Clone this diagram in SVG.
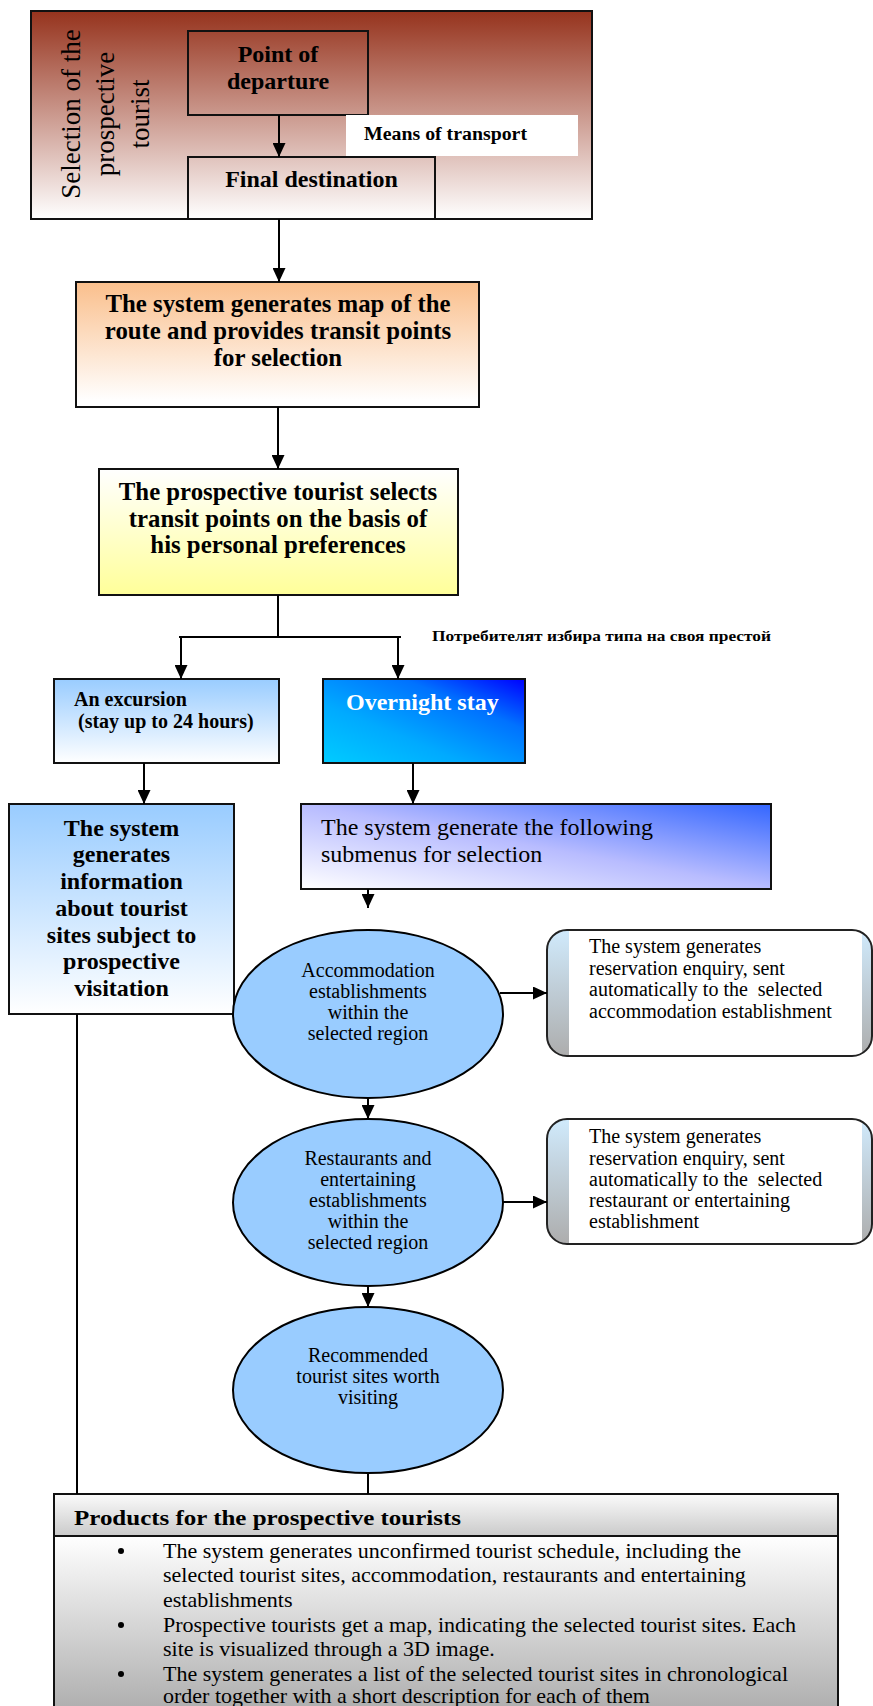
<svg xmlns="http://www.w3.org/2000/svg" width="873" height="1706" viewBox="0 0 873 1706">
<style>
.t{font-family:"Liberation Serif","Times New Roman",serif;fill:#000}
.b{font-weight:bold}
.c{text-anchor:middle}
.box{stroke:#111;stroke-width:2}
.ln{fill:none;stroke:#000;stroke-width:2}
.ell{fill:#99ccff;stroke:#000;stroke-width:2}
</style>
<defs>
<linearGradient id="gTop" x1="0" y1="0" x2="0" y2="1"><stop offset="0" stop-color="#96331d"/><stop offset="1" stop-color="#ffffff"/></linearGradient>
<linearGradient id="gOrange" x1="0" y1="0" x2="0" y2="1"><stop offset="0" stop-color="#fabf8c"/><stop offset="0.95" stop-color="#ffffff"/></linearGradient>
<linearGradient id="gYellow" x1="0" y1="0" x2="0" y2="1"><stop offset="0" stop-color="#ffffff"/><stop offset="1" stop-color="#ffff99"/></linearGradient>
<linearGradient id="gLB" x1="0" y1="0" x2="0" y2="1"><stop offset="0" stop-color="#99ccff"/><stop offset="1" stop-color="#ffffff"/></linearGradient>
<linearGradient id="gNight" x1="0" y1="1" x2="1" y2="0"><stop offset="0" stop-color="#00ccff"/><stop offset="0.35" stop-color="#00aaff"/><stop offset="0.7" stop-color="#0072ff"/><stop offset="1" stop-color="#0000ff"/></linearGradient>
<linearGradient id="gSub" x1="0" y1="1" x2="1" y2="0"><stop offset="0" stop-color="#ffffff"/><stop offset="0.5" stop-color="#b8bcff"/><stop offset="1" stop-color="#3366ff"/></linearGradient>
<linearGradient id="gBand" x1="0" y1="0" x2="0" y2="1"><stop offset="0" stop-color="#d0eafc"/><stop offset="1" stop-color="#adadad"/></linearGradient>
<linearGradient id="gHead" x1="0" y1="0" x2="0" y2="1"><stop offset="0" stop-color="#fbfbfb"/><stop offset="1" stop-color="#cacaca"/></linearGradient>
<linearGradient id="gBody" gradientUnits="userSpaceOnUse" x1="0" y1="1536" x2="0" y2="1706"><stop offset="0" stop-color="#ffffff"/><stop offset="1" stop-color="#b0b0b0"/></linearGradient>
<marker id="arr" markerUnits="userSpaceOnUse" markerWidth="14" markerHeight="13" viewBox="0 0 14 13" refX="14" refY="6.5" orient="auto"><path d="M0,0 L14,6.5 L0,13 z" fill="#000"/></marker>
</defs>

<g id="selection">
<rect x="31" y="11" width="561" height="208" fill="url(#gTop)" class="box" stroke-width="2.5"/>
<g class="t" font-size="27" text-anchor="middle">
<text transform="translate(80,114) rotate(-90)">Selection of the</text>
<text transform="translate(114,114) rotate(-90)">prospective</text>
<text transform="translate(149,114) rotate(-90)">tourist</text>
</g>
</g>

<g id="point-of-departure">
<rect x="188" y="31" width="180" height="84" fill="none" class="box"/>
<text class="t b c" font-size="24" x="278" y="62">Point of</text>
<text class="t b c" font-size="24" x="278" y="89">departure</text>
</g>

<g id="means-of-transport">
<rect x="346" y="115" width="232" height="41" fill="#ffffff"/>
<text class="t b" font-size="18" x="364" y="140" textLength="163" lengthAdjust="spacingAndGlyphs">Means of transport</text>
</g>

<g id="final-destination">
<rect x="188" y="157" width="247" height="62" fill="none" class="box"/>
<text class="t b c" font-size="24" x="311.5" y="187">Final destination</text>
</g>

<g id="route-map">
<rect x="76" y="282" width="403" height="125" fill="url(#gOrange)" class="box"/>
<text class="t b c" font-size="24.8" x="278" y="312">The system generates map of the</text>
<text class="t b c" font-size="24.8" x="278" y="339">route and provides transit points</text>
<text class="t b c" font-size="24.8" x="278" y="366">for selection</text>
</g>

<g id="select-transit">
<rect x="99" y="469" width="359" height="126" fill="url(#gYellow)" class="box"/>
<text class="t b c" font-size="24.8" x="278" y="500">The prospective tourist selects</text>
<text class="t b c" font-size="24.8" x="278" y="527">transit points on the basis of</text>
<text class="t b c" font-size="24.8" x="278" y="553">his personal preferences</text>
</g>

<g id="stay-type-label">
<text class="t b" font-size="15" x="432" y="641" textLength="339" lengthAdjust="spacingAndGlyphs">Потребителят избира типа на своя престой</text>
</g>

<g id="excursion">
<rect x="54" y="679" width="225" height="84" fill="url(#gLB)" class="box"/>
<text class="t b" font-size="20" x="74" y="706">An excursion</text>
<text class="t b" font-size="20" x="78" y="728">(stay up to 24 hours)</text>
</g>

<g id="overnight">
<rect x="323" y="679" width="202" height="84" fill="url(#gNight)" class="box"/>
<text class="t b" font-size="24" x="346" y="710" style="fill:#ffffff">Overnight stay</text>
</g>

<g id="tourist-sites-info">
<rect x="9" y="804" width="225" height="210" fill="url(#gLB)" class="box"/>
<g class="t b c" font-size="24">
<text x="121.5" y="836">The system</text>
<text x="121.5" y="862">generates</text>
<text x="121.5" y="889">information</text>
<text x="121.5" y="916">about tourist</text>
<text x="121.5" y="943">sites subject to</text>
<text x="121.5" y="969">prospective</text>
<text x="121.5" y="996">visitation</text>
</g>
</g>

<g id="submenus">
<rect x="301" y="804" width="470" height="85" fill="url(#gSub)" class="box"/>
<text class="t" font-size="24" x="321" y="835">The system generate the following</text>
<text class="t" font-size="24" x="321" y="862">submenus for selection</text>
</g>

<g id="accommodation">
<ellipse cx="368" cy="1014" rx="135" ry="84" class="ell"/>
<g class="t c" font-size="20">
<text x="368" y="977">Accommodation</text>
<text x="368" y="998">establishments</text>
<text x="368" y="1019">within the</text>
<text x="368" y="1040">selected region</text>
</g>
</g>

<g id="reservation-accommodation">
<rect x="547" y="930" width="325" height="126" rx="20" fill="url(#gBand)"/>
<rect x="569" y="931" width="293" height="124" fill="#ffffff"/>
<rect x="547" y="930" width="325" height="126" rx="20" fill="none" stroke="#222" stroke-width="2"/>
<g class="t" font-size="20">
<text x="589" y="953">The system generates</text>
<text x="589" y="975">reservation enquiry, sent</text>
<text x="589" y="996">automatically to the&#160; selected</text>
<text x="589" y="1018">accommodation establishment</text>
</g>
</g>

<g id="restaurants">
<ellipse cx="368" cy="1202.5" rx="135" ry="83.5" class="ell"/>
<g class="t c" font-size="20">
<text x="368" y="1165">Restaurants and</text>
<text x="368" y="1186">entertaining</text>
<text x="368" y="1207">establishments</text>
<text x="368" y="1228">within the</text>
<text x="368" y="1249">selected region</text>
</g>
</g>

<g id="reservation-restaurant">
<rect x="547" y="1119" width="325" height="125" rx="20" fill="url(#gBand)"/>
<rect x="569" y="1120" width="293" height="123" fill="#ffffff"/>
<rect x="547" y="1119" width="325" height="125" rx="20" fill="none" stroke="#222" stroke-width="2"/>
<g class="t" font-size="20">
<text x="589" y="1143">The system generates</text>
<text x="589" y="1165">reservation enquiry, sent</text>
<text x="589" y="1186">automatically to the&#160; selected</text>
<text x="589" y="1207">restaurant or entertaining</text>
<text x="589" y="1228">establishment</text>
</g>
</g>

<g id="recommended-sites">
<ellipse cx="368" cy="1390" rx="135" ry="83" class="ell"/>
<g class="t c" font-size="20">
<text x="368" y="1362">Recommended</text>
<text x="368" y="1383">tourist sites worth</text>
<text x="368" y="1404">visiting</text>
</g>
</g>

<g id="products">
<rect x="54" y="1536" width="784" height="180" fill="url(#gBody)" class="box"/>
<rect x="54" y="1494" width="784" height="42" fill="url(#gHead)" class="box"/>
<text class="t b" font-size="21" x="74" y="1525" textLength="387" lengthAdjust="spacingAndGlyphs">Products for the prospective tourists</text>
<g fill="#000">
<circle cx="121" cy="1551" r="3"/>
<circle cx="121" cy="1625" r="3"/>
<circle cx="121" cy="1674" r="3"/>
</g>
<g class="t" font-size="22">
<text x="163" y="1558">The system generates unconfirmed tourist schedule, including the</text>
<text x="163" y="1582">selected tourist sites, accommodation, restaurants and entertaining</text>
<text x="163" y="1607">establishments</text>
<text x="163" y="1632">Prospective tourists get a map, indicating the selected tourist sites. Each</text>
<text x="163" y="1656">site is visualized through a 3D image.</text>
<text x="163" y="1681">The system generates a list of the selected tourist sites in chronological</text>
<text x="163" y="1703">order together with a short description for each of them</text>
</g>
</g>

<g id="connectors" class="ln">
<path d="M279,115 V157" marker-end="url(#arr)"/>
<path d="M279,219 V282" marker-end="url(#arr)"/>
<path d="M278,407 V469" marker-end="url(#arr)"/>
<path d="M278,595 V637"/>
<path d="M179,637 H401"/>
<path d="M181,637 V679" marker-end="url(#arr)"/>
<path d="M398,637 V679" marker-end="url(#arr)"/>
<path d="M144,763 V804" marker-end="url(#arr)"/>
<path d="M413,763 V804" marker-end="url(#arr)"/>
<path d="M368,889 V908" marker-end="url(#arr)"/>
<path d="M500,993 H547" marker-end="url(#arr)"/>
<path d="M368,1098 V1119" marker-end="url(#arr)"/>
<path d="M503,1202 H547" marker-end="url(#arr)"/>
<path d="M368,1286 V1307" marker-end="url(#arr)"/>
<path d="M368,1473 V1494"/>
<path d="M77,1014 V1494"/>
</g>
</svg>
